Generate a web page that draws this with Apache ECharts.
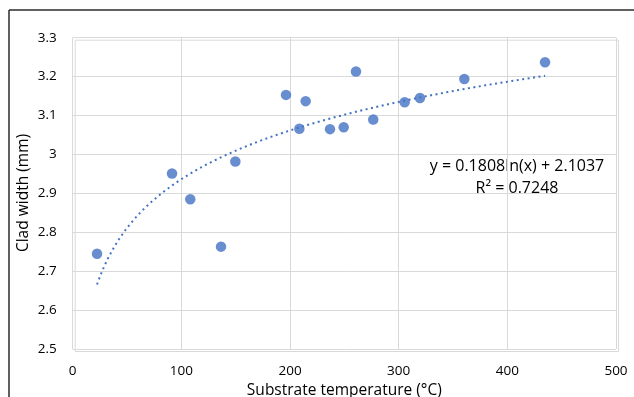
<!DOCTYPE html>
<html>
<head>
<meta charset="utf-8">
<script src="https://cdn.jsdelivr.net/npm/echarts@6/dist/echarts.min.js"></script>
<style>html,body{margin:0;padding:0;background:#fff}#c{width:634px;height:397px}</style>
</head>
<body>
<div id="c"></div>
<script>
// Data
const temperature = [22.4, 91.4, 108.2, 136.5, 149.7, 196.3, 208.6, 214.4, 236.8, 249.4, 260.7, 276.6, 305.5, 319.6, 360.4, 434.7];
const cladWidth   = [2.745, 2.951, 2.885, 2.763, 2.982, 3.153, 3.066, 3.137, 3.065, 3.070, 3.213, 3.090, 3.134, 3.145, 3.194, 3.237];
// Logarithmic trendline coefficients printed on the chart
const trendA = 0.1808;
const trendB = 2.1037;
const trendR2 = 0.7248;
const xTicks = [0, 100, 200, 300, 400, 500];
const yTicks = [2.5, 2.6, 2.7, 2.8, 2.9, 3, 3.1, 3.2, 3.3];

const scatterData = temperature.map((t, i) => [t, cladWidth[i]]);
const xMin = Math.min(...temperature), xMax = Math.max(...temperature);
const trendData = [];
for (let i = 0; i <= 120; i++) {
  const x = xMin + (xMax - xMin) * i / 120;
  trendData.push([x, trendA * Math.log(x) + trendB]);
}

const FONT = '"Open Sans"';
const TXT = '#000';
const chart = echarts.init(document.getElementById('c'));
chart.setOption({
  animation: false,
  backgroundColor: '#fff',
  textStyle: { fontFamily: FONT },
  grid: { left: 72.7, right: 18, top: 37.7, bottom: 48, containLabel: false, outerBoundsMode: 'none' },
  xAxis: {
    type: 'value', min: xTicks[0], max: xTicks[xTicks.length - 1], interval: 100,
    name: 'Substrate temperature (°C)', nameLocation: 'middle', nameGap: 39,
    nameTextStyle: { fontFamily: FONT, fontSize: 15.5, color: TXT, verticalAlign: 'middle' },
    axisLine: { show: false }, axisTick: { show: false },
    axisLabel: { fontFamily: FONT, fontSize: 13.5, color: TXT, margin: 15 },
    splitLine: { show: true, lineStyle: { color: '#d9d9d9', width: 1 } }
  },
  yAxis: {
    type: 'value', min: yTicks[0], max: yTicks[yTicks.length - 1], interval: 0.1,
    axisLine: { show: false }, axisTick: { show: false },
    axisLabel: { fontFamily: FONT, fontSize: 13.5, color: TXT, margin: 16,
      formatter: v => String(Math.round(v * 10) / 10) },
    splitLine: { show: true, lineStyle: { color: '#d9d9d9', width: 1 } }
  },
  graphic: [
    { type: 'rect', left: 72.7, top: 37.7, shape: { width: 543.3, height: 311.3 }, silent: true,
      style: { fill: 'none', stroke: '#d9d9d9', lineWidth: 1 }, z: -1 },
    { type: 'line', shape: { x1: 9, y1: 10, x2: 640, y2: 10 }, style: { stroke: '#2b2b2b', lineWidth: 1.5 } },
    { type: 'line', shape: { x1: 9, y1: 10, x2: 9, y2: 400 }, style: { stroke: '#2b2b2b', lineWidth: 1.5 } },
    { type: 'text', x: 24, y: 193, rotation: Math.PI / 2,
      style: { text: 'Clad width (mm)', font: '15.5px ' + FONT, fill: TXT, textAlign: 'center', textVerticalAlign: 'middle' } },
    { type: 'text', x: 517, y: 166, style: { text: 'y = ' + trendA + 'ln(x) + ' + trendB, font: '16px ' + FONT, fill: TXT, textAlign: 'center', textVerticalAlign: 'middle' } },
    { type: 'text', x: 517, y: 188, style: { text: 'R² = ' + trendR2, font: '16px ' + FONT, fill: TXT, textAlign: 'center', textVerticalAlign: 'middle' } }
  ],
  series: [
    { type: 'scatter', data: scatterData, symbolSize: 10.5, itemStyle: { color: '#4472C4' }, z: 3 },
    { type: 'line', data: trendData, showSymbol: false, symbol: 'none', smooth: false,
      lineStyle: { color: '#4472C4', width: 2, type: [2, 3.5], cap: 'butt' }, z: 2 }
  ]
});
</script>
</body>
</html>
